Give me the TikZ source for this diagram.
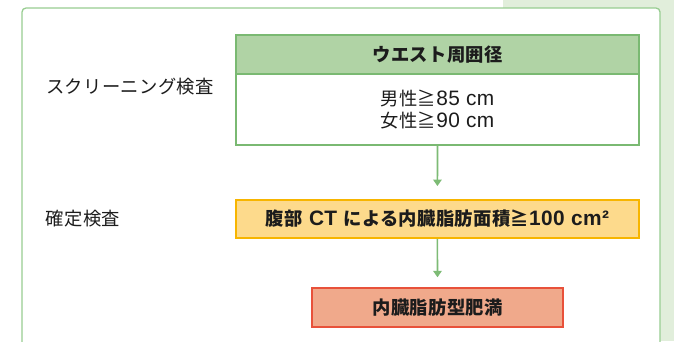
\documentclass[tikz,border=0pt]{standalone}
\usepackage{fontspec}
\setmainfont{Noto Sans CJK JP}[LetterSpace=2]
\newfontfamily\lat{Liberation Sans}[LetterSpace=2,Scale=1.14]
\usetikzlibrary{arrows.meta}
\definecolor{bgg}{HTML}{E1EEDB}
\definecolor{cardline}{HTML}{98CD91}
\definecolor{gline}{HTML}{7AB972}
\definecolor{gfill}{HTML}{B0D3A5}
\definecolor{yline}{HTML}{F7B500}
\definecolor{yfill}{HTML}{FDDA8C}
\definecolor{rline}{HTML}{E8513A}
\definecolor{rfill}{HTML}{F0A98B}
\definecolor{arr}{HTML}{7DBB75}
\definecolor{txt}{HTML}{1C1C1C}
\tikzset{
  base/.style={text=txt, font=\fontsize{18.3}{22.5}\selectfont, inner sep=0pt},
  box/.style={base, draw, line width=2pt, rectangle, align=center},
  gbox/.style={box, draw=gline},
  flow/.style={draw=arr, line width=1.6pt, -{Triangle[width=8.5pt,length=6.5pt]}},
}
\begin{document}
\begin{tikzpicture}[x=1pt,y=-1pt]
\useasboundingbox (0,0) rectangle (674,341);
\fill[bgg] (503,0) rectangle (674,341);
\draw[cardline, line width=1.3pt, fill=white, rounded corners=4pt] (22,8) rectangle (660,380);
\node[gbox, fill=gfill, minimum width=403.6pt, minimum height=39pt] (head) at (437.5,54.8) {\bfseries ウエスト周囲径};
\node[gbox, fill=white, minimum width=403.6pt, minimum height=70.4pt] (body) at (437.5,109.5) {男性≧{\lat 85 cm}\\女性≧{\lat 90 cm}};
\node[box, draw=yline, fill=yfill, minimum width=403.3pt, minimum height=37.7pt] (ct) at (437.4,218.9) {\bfseries 腹部{\lat\ CT }による内臓脂肪面積≧{\lat 100 cm²}};
\node[box, draw=rline, fill=rfill, minimum width=250.4pt, minimum height=38.4pt] (res) at (437.5,307.5) {\bfseries 内臓脂肪型肥満};
\node[base, anchor=west] (lab1) at (46,87) {スクリーニング検査};
\node[base, anchor=west] (lab2) at (45.7,218.5) {確定検査};
\draw[flow, shorten >=13pt] (body.south) -- (ct.north);
\draw[flow, shorten >=10pt] (ct.south) -- (res.north);
\end{tikzpicture}
\end{document}
